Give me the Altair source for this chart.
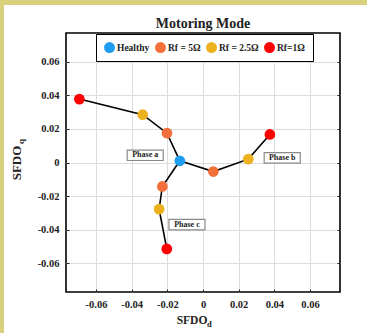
import altair as alt
import pandas as pd

# Fault conditions (legend order) and their marker colours
conditions = ["Healthy", "Rf = 5Ω", "Rf = 2.5Ω", "Rf=1Ω"]
colors = ["#1e9cf0", "#f3703a", "#ecb11f", "#ff0000"]

# Healthy operating point (shared start of every phase trajectory)
healthy_d = -0.013
healthy_q = 0.001

# SFDO_d / SFDO_q for Rf = 5, 2.5, 1 Ohm, per faulty phase
phases = ["a", "b", "c"]
fault_d = {
    "a": [-0.0202, -0.0338, -0.0693],
    "b": [0.0058, 0.0254, 0.0375],
    "c": [-0.0228, -0.0246, -0.0203],
}
fault_q = {
    "a": [0.0175, 0.0285, 0.0378],
    "b": [-0.0054, 0.0020, 0.0167],
    "c": [-0.0143, -0.0278, -0.0515],
}

# Phase annotation anchors (data units)
label_text = ["Phase a", "Phase b", "Phase c"]
label_d = [-0.0324, 0.0444, -0.0090]
label_q = [0.0043, 0.0028, -0.0370]

ticks = [-0.06, -0.04, -0.02, 0, 0.02, 0.04, 0.06]

rows = []
for p in phases:
    rows.append({"phase": p, "order": 0, "cond": conditions[0], "d": healthy_d, "q": healthy_q})
    for i in range(3):
        rows.append({"phase": p, "order": i + 1, "cond": conditions[i + 1],
                     "d": fault_d[p][i], "q": fault_q[p][i]})
df = pd.DataFrame(rows)
pts = pd.concat([df[df["order"] > 0], df[(df["order"] == 0) & (df["phase"] == "a")]])
labels = pd.DataFrame({"text": label_text, "d": label_d, "q": label_q})

W, H = 274, 259
FONT = "Liberation Serif"
KHAKI = "#d8d07c"
INK = "#222"
label_expr = "datum.value == 0 ? '0' : replace(format(datum.value, '.2f'), '−', '-')"

xs = alt.Scale(domain=[-0.0768, 0.0768], nice=False, zero=False)
ys = alt.Scale(domain=[-0.0772, 0.0772], nice=False, zero=False)

x_bottom = alt.X("d:Q", scale=xs, title=None,
                 axis=alt.Axis(values=ticks, labelExpr=label_expr, orient="bottom",
                               offset=-3, tickSize=3, labelPadding=7, grid=True))
y_left = alt.Y("q:Q", scale=ys, title=None,
               axis=alt.Axis(values=ticks, labelExpr=label_expr, orient="left",
                             offset=-3, tickSize=3, labelPadding=7, grid=True))
x_plain = alt.X("d:Q", scale=xs, axis=None)
y_plain = alt.Y("q:Q", scale=ys, axis=None)

# Khaki frame band along the top and left edges of the figure
one = pd.DataFrame({"k": [0]})
band_left = alt.Chart(one).mark_rect(color=KHAKI).encode(
    x=alt.value(-66), x2=alt.value(-62), y=alt.value(-33), y2=alt.value(H + 41)
)
band_top = alt.Chart(one).mark_rect(color=KHAKI).encode(
    x=alt.value(-66), x2=alt.value(W + 27), y=alt.value(-33), y2=alt.value(-28)
)

# Trajectories: healthy -> 5 -> 2.5 -> 1 Ohm; this layer carries the top/right tick axes
lines = alt.Chart(df).mark_line(color="black", strokeWidth=1.6).encode(
    x=alt.X("d:Q", scale=xs, title=None,
            axis=alt.Axis(values=ticks, orient="top", labels=False, offset=-3,
                          tickSize=3, grid=False)),
    y=alt.Y("q:Q", scale=ys, title=None,
            axis=alt.Axis(values=ticks, orient="right", labels=False, offset=-3,
                          tickSize=3, grid=False)),
    detail="phase:N",
    order="order:Q",
)

points = alt.Chart(pts).mark_circle(size=115, opacity=1).encode(
    x=x_bottom,
    y=y_left,
    color=alt.Color("cond:N", scale=alt.Scale(domain=conditions, range=colors),
                    legend=alt.Legend(title=None, orient="none", legendX=30, legendY=1,
                                      direction="horizontal", strokeColor="black",
                                      fillColor="white", padding=8, symbolType="circle",
                                      symbolSize=120, symbolStrokeWidth=0,
                                      labelFontSize=9.5, labelFontWeight="bold",
                                      labelFont=FONT, labelColor=INK,
                                      columnPadding=5, labelOffset=2)),
)

boxes = alt.Chart(labels).mark_point(
    shape="M-1,-0.29L1,-0.29L1,0.29L-1,0.29Z", size=1300, filled=True,
    fill="white", stroke="#8a8a8a", strokeWidth=1.2, opacity=1
).encode(x=x_plain, y=y_plain)

box_text = alt.Chart(labels).mark_text(
    font=FONT, fontWeight="bold", fontSize=8, color=INK
).encode(x=x_plain, y=y_plain, text="text:N")


def caption(txt, size, px, py, align="center", angle=0):
    return alt.Chart(pd.DataFrame({"t": [txt]})).mark_text(
        font=FONT, fontWeight="bold", fontSize=size, align=align,
        baseline="alphabetic", angle=angle, color=INK
    ).encode(x=alt.value(px), y=alt.value(py), text="t:N")


# Chart title and axis titles (with subscripts)
title = caption("Motoring Mode", 14, W / 2, -5)
xt = caption("SFDO", 11.5, 126, 291)
xsub = caption("d", 8.5, 141, 294, align="left")
yt = caption("SFDO", 13, -45, 130, angle=270)
ysub = caption("q", 9, -42, 111, align="left", angle=270)

chart = alt.layer(band_left, band_top, lines, points, boxes, box_text,
                  title, xt, xsub, yt, ysub).resolve_axis(
    x="independent", y="independent"
).properties(
    width=W, height=H,
    background="white",
    padding={"left": 66, "top": 33, "right": 27, "bottom": 41},
    autosize=alt.AutoSizeParams(type="none"),
).configure_view(
    stroke="black", strokeWidth=1.6, fill="white"
).configure_axis(
    domain=False, tickColor=INK, labelFont=FONT, labelFontWeight="bold",
    labelFontSize=10.5, labelColor=INK, gridColor="#dcdcdc", gridWidth=1
)

chart.save("out.html", embed_options={"renderer": "svg", "actions": False})
